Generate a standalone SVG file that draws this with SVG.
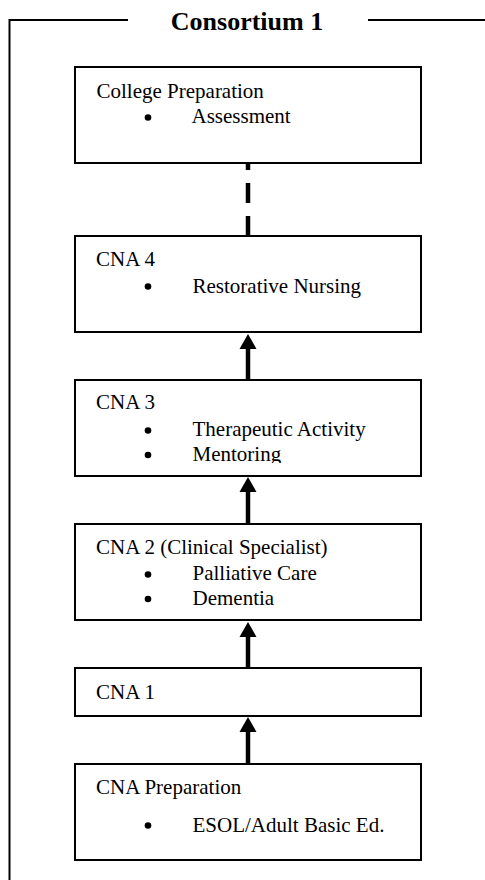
<svg xmlns="http://www.w3.org/2000/svg" width="485" height="880" viewBox="0 0 485 880">
  <style>
    .frame { fill: none; stroke: #000; stroke-width: 2; }
    .box { fill: #fff; stroke: #000; stroke-width: 2; }
    .lbl { font-family: "Liberation Serif", "Times New Roman", serif; font-size: 21px; fill: #000; }
    .title { font-family: "Liberation Serif", "Times New Roman", serif; font-size: 26px; font-weight: bold; fill: #000; }
    .dot { fill: #000; }
    .link { stroke: #000; stroke-width: 4.5; fill: none; }
  </style>
  <defs>
    <marker id="head" markerUnits="userSpaceOnUse" markerWidth="18" markerHeight="16" refX="9" refY="0" orient="auto-start-reverse" viewBox="0 0 18 16">
      <path d="M0,16 L9,0 L18,16 Z" fill="#000"/>
    </marker>
    <clipPath id="cna3clip">
      <rect x="76" y="381" width="344" height="82"/>
    </clipPath>
  </defs>

  <!-- outer frame with title -->
  <g id="frame">
    <path class="frame" d="M128,20 H9.5 V880"/>
    <path class="frame" d="M368,20 H485"/>
    <text class="title" x="247" y="30" text-anchor="middle">Consortium 1</text>
  </g>

  <!-- connectors -->
  <g id="connectors">
    <line class="link" x1="248" y1="236" x2="248" y2="164" stroke-dasharray="20 13"/>
    <path d="M248,380 V349" class="link"/>
    <path d="M239.5,349 L248,334 L256.5,349 Z" class="dot"/>
    <path d="M248,523 V492" class="link"/>
    <path d="M239.5,492 L248,477 L256.5,492 Z" class="dot"/>
    <path d="M248,668 V637" class="link"/>
    <path d="M239.5,637 L248,622 L256.5,637 Z" class="dot"/>
    <path d="M248,763 V732" class="link"/>
    <path d="M239.5,732 L248,717 L256.5,732 Z" class="dot"/>
  </g>

  <g id="college-prep">
    <rect class="box" x="75" y="67" width="346" height="96"/>
    <text class="lbl" x="96.5" y="98">College Preparation</text>
    <circle class="dot" cx="148" cy="117.5" r="3.3"/>
    <text class="lbl" x="191.5" y="123">Assessment</text>
  </g>

  <g id="cna4">
    <rect class="box" x="75" y="236" width="346" height="96"/>
    <text class="lbl" x="96" y="266">CNA 4</text>
    <circle class="dot" cx="148" cy="286.5" r="3.3"/>
    <text class="lbl" x="192.5" y="292.5">Restorative Nursing</text>
  </g>

  <g id="cna3">
    <rect class="box" x="75" y="380" width="346" height="96"/>
    <text class="lbl" x="96" y="409">CNA 3</text>
    <circle class="dot" cx="148" cy="430.5" r="3.3"/>
    <text class="lbl" x="192.5" y="436">Therapeutic Activity</text>
    <circle class="dot" cx="148" cy="455" r="3.3"/>
    <text class="lbl" x="192.5" y="460.5" clip-path="url(#cna3clip)">Mentoring</text>
  </g>

  <g id="cna2">
    <rect class="box" x="75" y="524" width="346" height="96"/>
    <text class="lbl" x="96" y="554">CNA 2 (Clinical Specialist)</text>
    <circle class="dot" cx="148" cy="574.5" r="3.3"/>
    <text class="lbl" x="192.5" y="580">Palliative Care</text>
    <circle class="dot" cx="148" cy="599" r="3.3"/>
    <text class="lbl" x="192.5" y="605">Dementia</text>
  </g>

  <g id="cna1">
    <rect class="box" x="75" y="668" width="346" height="48"/>
    <text class="lbl" x="96" y="699">CNA 1</text>
  </g>

  <g id="cna-prep">
    <rect class="box" x="75" y="764" width="346" height="96"/>
    <text class="lbl" x="96" y="794">CNA Preparation</text>
    <circle class="dot" cx="148" cy="825.5" r="3.3"/>
    <text class="lbl" x="192.5" y="831.5">ESOL/Adult Basic Ed.</text>
  </g>
</svg>
